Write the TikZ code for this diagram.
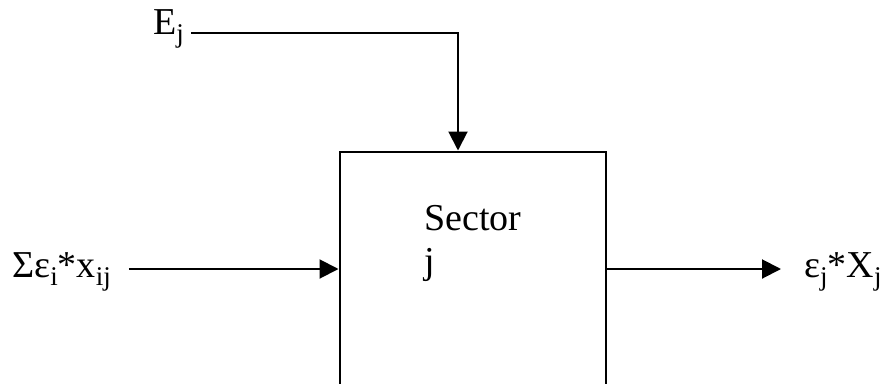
\documentclass[tikz,border=0pt]{standalone}
\usepackage{fontspec}
\setmainfont{Liberation Serif}
\usetikzlibrary{arrows.meta}
\newcommand{\sbx}[1]{\raisebox{-0.22em}{\fontsize{27}{27}\selectfont #1}}
\begin{document}
\begin{tikzpicture}[x=1pt,y=1pt,
  lbl/.style={inner sep=0pt,font=\fontsize{38}{43}\selectfont},
  arr/.style={line width=2pt,-{Triangle[length=19pt,width=19pt]}},
  blk/.style={draw,line width=2pt,inner sep=0pt,minimum width=266.5pt,minimum height=235pt}]
\useasboundingbox (0,0) rectangle (886,-383);
\clip (0,0) rectangle (886,-383);
\node[blk,anchor=north west] (box) at (338.5,-150.5) {};
\node[lbl,anchor=base west,align=left] (sec) at (424,-273) {Sector\\j};
\node[lbl,anchor=base west] (Ej) at (153,-34) {E\sbx{j}};
\node[lbl,anchor=base west] (sum) at (12,-277) {Σε\sbx{i}*x\sbx{ij}};
\node[lbl,anchor=base west] (out) at (804,-277) {ε\sbx{j}*X\sbx{j}};
\draw[arr] ([xshift=7pt,yshift=1pt]Ej.base east) -| ([xshift=-14.75pt]box.north);
\draw[arr] ([xshift=18pt]sum.east |- box.west) -- (box.west);
\draw[arr] (box.east) -- ([xshift=-23pt]out.west |- box.east);
\end{tikzpicture}
\end{document}
